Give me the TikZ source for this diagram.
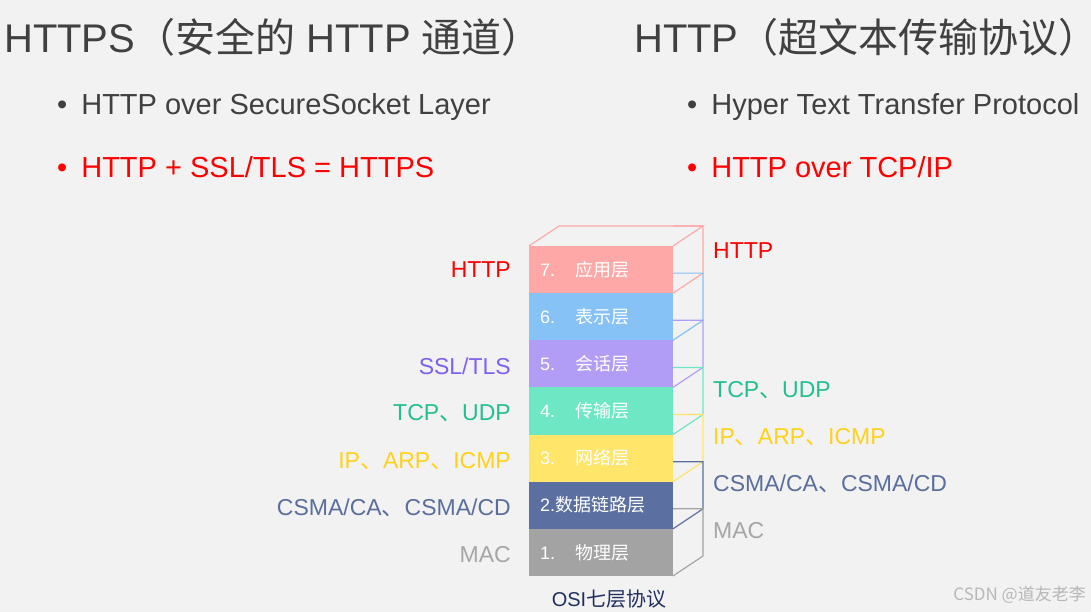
\documentclass[tikz,border=0pt]{standalone}
\usepackage{fontspec}
\setmainfont{Liberation Sans}
\newfontfamily\cjk{Noto Sans CJK SC}
\definecolor{bg}{HTML}{F2F2F2}
\definecolor{ttl}{HTML}{404040}
\definecolor{cRed}{HTML}{FF0000}
\definecolor{cPur}{HTML}{8060F0}
\definecolor{cGrn}{HTML}{20C090}
\definecolor{cYel}{HTML}{FFD21A}
\definecolor{cSla}{HTML}{5A6E9E}
\definecolor{cGry}{HTML}{A6A6A6}
\definecolor{l7}{HTML}{FFA8A8}
\definecolor{l6}{HTML}{86C2F6}
\definecolor{l5}{HTML}{B29DF6}
\definecolor{l4}{HTML}{6EE8C4}
\definecolor{l3}{HTML}{FFE66A}
\definecolor{l2}{HTML}{5B70A0}
\definecolor{l1}{HTML}{A3A3A3}
\definecolor{navy}{HTML}{1F3060}
\begin{document}
\begin{tikzpicture}[x=1pt,y=-1pt,
  title/.style={anchor=west,inner sep=0,text=ttl,font=\fontsize{40}{44}\selectfont},
  bul/.style={anchor=west,inner sep=0,font=\fontsize{29}{32}\selectfont},
  lbl/.style={inner sep=0,font=\fontsize{23}{26}\selectfont},
  lay/.style={anchor=west,inner sep=0,text=white,font=\fontsize{18}{21}\selectfont}]
\useasboundingbox[fill=bg] (0,0) rectangle (1091,612);
\node[title] (t1) at (4,37) {HTTPS{\cjk（安全的} HTTP {\cjk 通道）}};
\node[title] (t2) at (634,37) {HTTP{\cjk（超文本传输协议）}};
\node[bul,text=ttl] (b1) at (57,107) {•\hspace{14pt}HTTP over SecureSocket Layer};
\node[bul,text=cRed] (b2) at (57,167) {•\hspace{14pt}HTTP + SSL/TLS = HTTPS};
\node[bul,text=ttl] (b3) at (687,107) {•\hspace{14pt}Hyper Text Transfer Protocol};
\node[bul,text=cRed] (b4) at (687,167) {•\hspace{14pt}HTTP over TCP/IP};
% stack
\foreach \i/\c/\t in {7/l7/{7.\hspace{20pt}{\cjk 应用层}},6/l6/{6.\hspace{20pt}{\cjk 表示层}},5/l5/{5.\hspace{20pt}{\cjk 会话层}},4/l4/{4.\hspace{20pt}{\cjk 传输层}},3/l3/{3.\hspace{20pt}{\cjk 网络层}},2/l2/{2.{\cjk 数据链路层}},1/l1/{1.\hspace{20pt}{\cjk 物理层}}}{
  \pgfmathsetmacro\yt{246+(7-\i)*47.14}
  \pgfmathsetmacro\yb{\yt+47.14}
  \fill[\c] (529,\yt) rectangle (673,\yb);
  \draw[\c,line width=1.2pt] (673,\yt-20) -- (703,\yt-20) -- (703,\yb-20) -- (673,\yb);
  \node[lay] (L\i) at (540,\yt+23.5) {\t};
}
\draw[l7,line width=1.2pt] (529,246) -- (559,226) -- (703,226) -- (673,246);
\node[inner sep=0,text=navy,font=\fontsize{20}{22}\selectfont] (osi) at (609,599) {OSI{\cjk 七层协议}};
% left labels
\node[lbl,anchor=east,text=cRed] (a7) at (511,270) {HTTP};
\node[lbl,anchor=east,text=cPur] (a5) at (511,366) {SSL/TLS};
\node[lbl,anchor=east,text=cGrn] (a4) at (511,413) {TCP{\cjk 、}UDP};
\node[lbl,anchor=east,text=cYel] (a3) at (511,461) {IP{\cjk 、}ARP{\cjk 、}ICMP};
\node[lbl,anchor=east,text=cSla] (a2) at (511,508) {CSMA/CA{\cjk 、}CSMA/CD};
\node[lbl,anchor=east,text=cGry] (a1) at (511,555) {MAC};
% right labels
\node[lbl,anchor=west,text=cRed] (r7) at (713,251) {HTTP};
\node[lbl,anchor=west,text=cGrn] (r4) at (713,390) {TCP{\cjk 、}UDP};
\node[lbl,anchor=west,text=cYel] (r3) at (713,437) {IP{\cjk 、}ARP{\cjk 、}ICMP};
\node[lbl,anchor=west,text=cSla] (r2) at (713,484) {CSMA/CA{\cjk 、}CSMA/CD};
\node[lbl,anchor=west,text=cGry] (r1) at (713,531) {MAC};
\node[inner sep=0,anchor=east,text=cGry!80,font=\cjk\fontsize{17}{20}\selectfont] (wm) at (1086,595) {CSDN @道友老李};
\end{tikzpicture}
\end{document}
